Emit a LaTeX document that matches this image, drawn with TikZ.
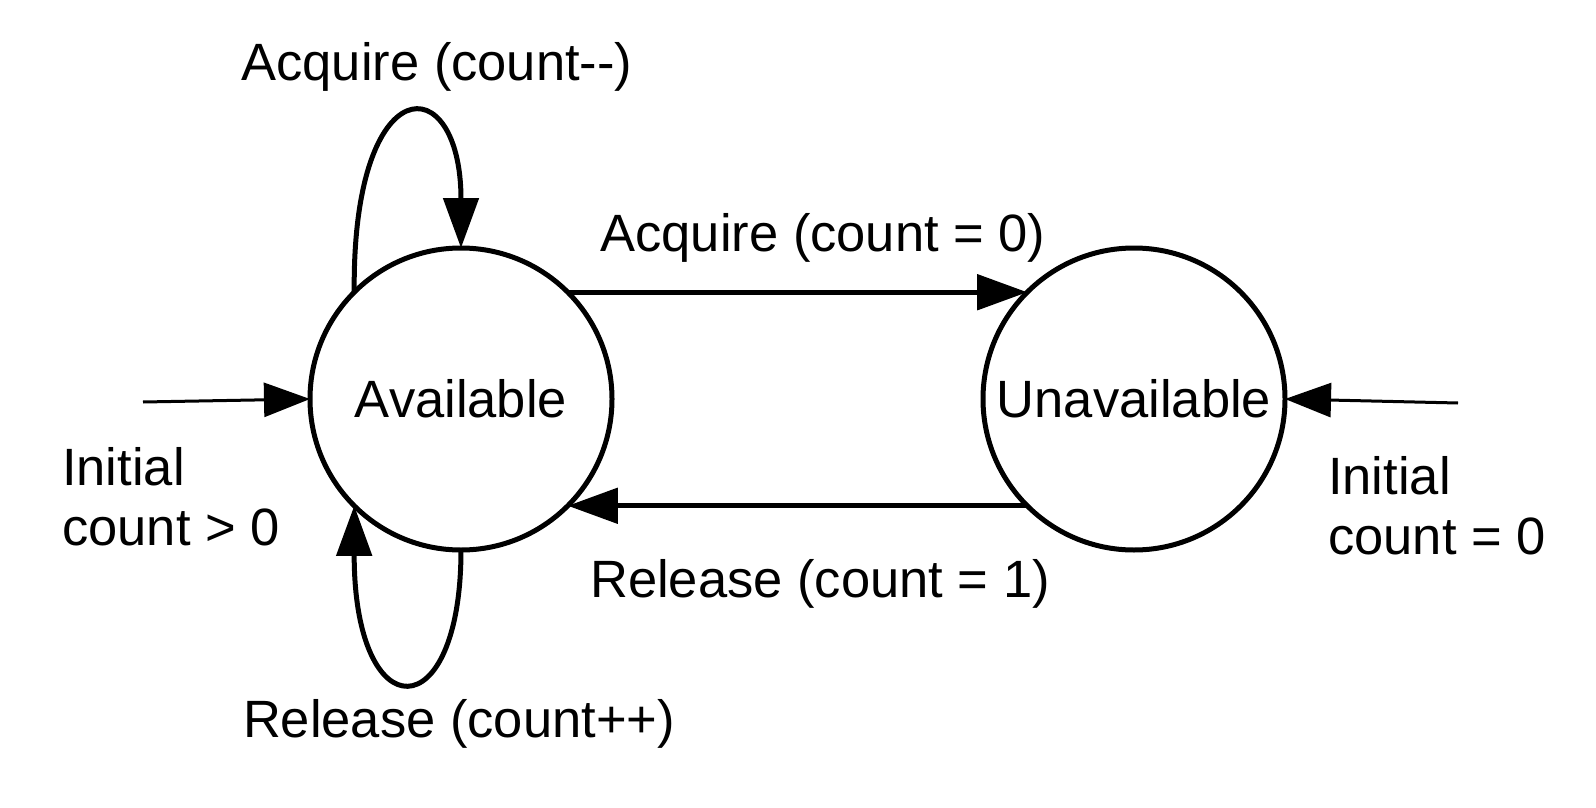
\documentclass[tikz,border=0pt]{standalone}
\usepackage{fontspec}
\setmainfont{Liberation Sans}
\usetikzlibrary{arrows.meta}
\begin{document}
\begin{tikzpicture}[x=1pt,y=-1pt,
  font=\fontsize{52.5pt}{60pt}\selectfont,
  state/.style={circle,draw,line width=5pt,minimum size=302pt,inner sep=0pt,outer sep=0pt},
  trans/.style={line width=5pt,-{Triangle[length=50pt,width=35pt]}},
  initarrow/.style={line width=3pt,-{Triangle[length=46pt,width=34pt]}},
  lbl/.style={inner sep=0pt,anchor=base},
  note/.style={inner sep=0pt,anchor=north west,align=left}]
  \useasboundingbox (0,0) rectangle (1596,808);

  % states
  \node[state] (A) at (461,399) {Available};
  \node[state] (U) at (1134,399) {Unavailable};

  % free ends of the initial arrows
  \coordinate (inL) at (143,402);
  \coordinate (inR) at (1458,403);

  % transitions between the states
  \draw[trans] (A.45) -- (U.135);
  \draw[trans] (U.-135) -- (A.-45);

  % self loops
  \draw[trans] (A.135) .. controls (352,66) and (461,66) .. (A.90);
  \draw[trans] (A.270) .. controls (461,731) and (354,731) .. (A.225);

  % initial arrows
  \draw[initarrow] (inL) -- (A.west);
  \draw[initarrow] (inR) -- (U.east);

  % labels
  \node[lbl] (lAq) at (437,81) {Acquire (count-{}-)};
  \node[lbl] (lAq0) at (823,251) {Acquire (count = 0)};
  \node[lbl] (lRe1) at (820,597) {Release (count = 1)};
  \node[lbl] (lRe) at (459,737) {Release (count++)};
  \node[note] (nL) at (62,447) {Initial\\count > 0};
  \node[note] (nR) at (1328,456) {Initial\\count = 0};
\end{tikzpicture}
\end{document}
